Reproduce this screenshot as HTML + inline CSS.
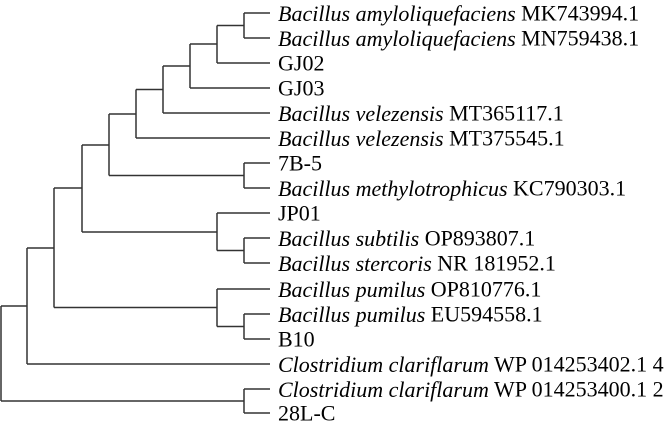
<!DOCTYPE html>
<html><head><meta charset="utf-8"><style>
html,body{margin:0;padding:0;background:#fff;}
svg{display:block;}
text{font-family:"Liberation Serif",serif;font-size:22px;fill:#000;dominant-baseline:central;}
</style></head><body>
<svg width="668" height="427" viewBox="0 0 668 427" xmlns="http://www.w3.org/2000/svg">
<g stroke="#333" stroke-width="1.5" fill="none">
<path d="M244 13H270M244 38H270M244 13V38"/>
<path d="M217 25.5H244M217 63H270M217 25.5V63"/>
<path d="M190 44H217M190 88H270M190 44V88"/>
<path d="M163 66H190M163 113H270M163 66V113"/>
<path d="M136 89.5H163M136 138H270M136 89.5V138"/>
<path d="M244 163H270M244 188H270M244 163V188"/>
<path d="M109 114H136M109 175.5H244M109 114V175.5"/>
<path d="M244 238H270M244 263H270M244 238V263"/>
<path d="M217 213H270M217 250.5H244M217 213V250.5"/>
<path d="M82 145H109M82 232H217M82 145V232"/>
<path d="M244 314H270M244 339H270M244 314V339"/>
<path d="M217 289H270M217 326.5H244M217 289V326.5"/>
<path d="M54 188H82M54 307.5H217M54 188V307.5"/>
<path d="M27 248H54M27 364H270M27 248V364"/>
<path d="M244 389H270M244 413H270M244 389V413"/>
<path d="M1 306H27M1 401H244M1 306V401"/>
</g>
<g>
<text x="278" y="13"><tspan font-style="italic">Bacillus amyloliquefaciens</tspan> MK743994.1</text>
<text x="278" y="38"><tspan font-style="italic">Bacillus amyloliquefaciens</tspan> MN759438.1</text>
<text x="278" y="63">GJ02</text>
<text x="278" y="88">GJ03</text>
<text x="278" y="113"><tspan font-style="italic">Bacillus velezensis</tspan> MT365117.1</text>
<text x="278" y="138"><tspan font-style="italic">Bacillus velezensis</tspan> MT375545.1</text>
<text x="278" y="163">7B-5</text>
<text x="278" y="188"><tspan font-style="italic">Bacillus methylotrophicus</tspan> KC790303.1</text>
<text x="278" y="213">JP01</text>
<text x="278" y="238"><tspan font-style="italic">Bacillus subtilis</tspan> OP893807.1</text>
<text x="278" y="263"><tspan font-style="italic">Bacillus stercoris</tspan> NR 181952.1</text>
<text x="278" y="289"><tspan font-style="italic">Bacillus pumilus</tspan> OP810776.1</text>
<text x="278" y="314"><tspan font-style="italic">Bacillus pumilus</tspan> EU594558.1</text>
<text x="278" y="339">B10</text>
<text x="278" y="364"><tspan font-style="italic">Clostridium clariflarum</tspan> WP 014253402.1 4</text>
<text x="278" y="389"><tspan font-style="italic">Clostridium clariflarum</tspan> WP 014253400.1 2</text>
<text x="278" y="413">28L-C</text>
</g>
</svg>
</body></html>
